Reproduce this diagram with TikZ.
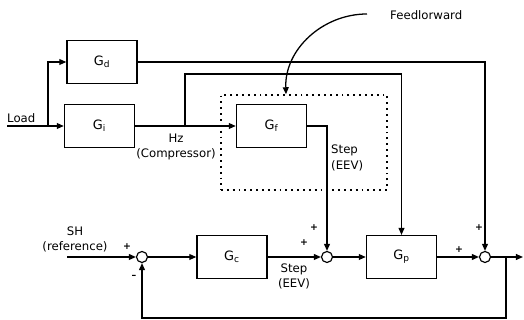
\documentclass[tikz,border=0pt]{standalone}
\usepackage{fontspec}
\setmainfont{DejaVu Sans}
\usetikzlibrary{arrows.meta,calc}
\tikzset{
  blkbox/.style={draw,line width=1.2pt,minimum width=2.1cm,minimum height=1.28cm,
                 inner sep=0pt,font=\fontsize{11}{12}\selectfont},
  sumj/.style={draw,circle,line width=1pt,minimum size=0.33cm,inner sep=0pt},
  sigarr/.style={-{Triangle[length=6pt,width=5pt]},line width=1.1pt},
  dotbox/.style={draw,line width=1.2pt,dash pattern=on 1.6pt off 3.4pt,inner sep=0pt},
  lbl/.style={font=\fontsize{10}{13.5}\selectfont,align=center,inner sep=0pt},
  sgn/.style={font=\fontsize{8}{8}\selectfont\bfseries,inner sep=0pt}
}
\begin{document}
\begin{tikzpicture}[x=0.03cm,y=0.03cm]
    \useasboundingbox (0,0) rectangle (524,320);
    % blocks
    \node[blkbox] (gd) at (102,258) {G\textsubscript{d}};
    \node[blkbox] (gi) at (99.5,194) {G\textsubscript{i}};
    \node[blkbox] (gf) at (271.5,194) {G\textsubscript{f}};
    \node[blkbox] (gc) at (232,63) {G\textsubscript{c}};
    \node[blkbox] (gp) at (401.5,63) {G\textsubscript{p}};
    % summing junctions
    \node[sumj] (s1) at (142,63) {};
    \node[sumj] (s2) at (327,63) {};
    \node[sumj] (s3) at (485,63) {};
    % feedforward region
    \node[dotbox,minimum width=4.98cm,minimum height=2.85cm] (ffbox) at (304,177.5) {};
    % free ends and branch points
    \coordinate (load) at (7,194);
    \coordinate (shin) at (67,63);
    \coordinate (yout) at (523,63);
    \coordinate (ffs) at (367,306);
    \coordinate (b1) at (48,194);
    \coordinate (b2) at (185,194);
    \coordinate (b3) at (506,63);
    % upper signal paths
    \draw[sigarr] (load) -- (gi.west);
    \draw[sigarr] (b1) |- (gd.west);
    \draw[sigarr] (gd.east) -| (s3.north);
    \draw[sigarr] (gi.east) -- (gf.west);
    \draw[sigarr] (b2) -- ++(0,52) -| (gp.north);
    \draw[sigarr] (gf.east) -| (s2.north);
    % main loop
    \draw[sigarr] (shin) -- (s1.west);
    \draw[sigarr] (s1.east) -- (gc.west);
    \draw[sigarr] (gc.east) -- (s2.west);
    \draw[sigarr] (s2.east) -- (gp.west);
    \draw[sigarr] (gp.east) -- (s3.west);
    \draw[sigarr] (s3.east) -- (yout);
    \draw[sigarr] (b3) -- ++(0,-61) -| (s1.south);
    % feedforward pointer
    \draw[sigarr] (ffs) to[out=180,in=92] ($(ffbox.north)+(-18,0)$);
    % labels
    \node[lbl,anchor=base west] (loadlbl) at (7,197.5) {Load};
    \node[lbl] (hzlbl) at (176,173) {Hz\\(Compressor)};
    \node[lbl,align=left,anchor=west] (stepup) at (331,162) {Step\\(EEV)};
    \node[lbl] (steplo) at (294,43.5) {Step\\(EEV)};
    \node[lbl] (shlbl) at (75,80.5) {SH\\(reference)};
    \node[lbl,anchor=west] (fflbl) at (390,305) {Feedlorward};
    % signs
    \node[sgn] (p1) at (127,73) {+};
    \node[sgn] (m1) at (134,43) {–};
    \node[sgn] (p2) at (314,92) {+};
    \node[sgn] (p3) at (304,77) {+};
    \node[sgn] (p4) at (479,92) {+};
    \node[sgn] (p5) at (459,70) {+};
\end{tikzpicture}
\end{document}
